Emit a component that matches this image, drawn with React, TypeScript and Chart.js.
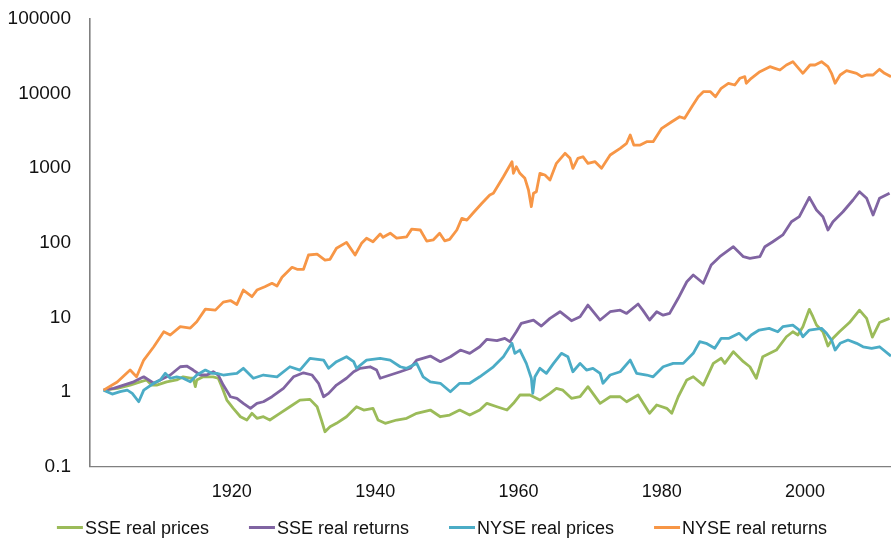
import React, { useEffect, useRef } from 'react';
import { Chart, registerables } from 'chart.js';

Chart.register(...registerables);

const FONT = "'Liberation Sans', Arial, sans-serif";

// X-axis tick labels and Y-axis tick labels
const xTickYears = [1920, 1940, 1960, 1980, 2000];
const yTickValues = [0.1, 1, 10, 100, 1000, 10000, 100000];
const yTickLabels = ['0.1', '1', '10', '100', '1000', '10000', '100000'];

const seriesLabels = ['SSE real prices', 'SSE real returns', 'NYSE real prices', 'NYSE real returns'];
const seriesColors = ['#9BBB59', '#8064A2', '#4BACC6', '#F79646'];

// SSE real prices (green)
const ssePricesYears = [
  1902.1, 1904.0, 1905.8, 1907.2, 1908.1, 1908.8, 1909.5, 1910.9, 1912.3, 1913.2,
  1914.2, 1914.6, 1914.9, 1915.1, 1916.0, 1917.4, 1918.1, 1918.6, 1919.3, 1920.2,
  1921.2, 1922.1, 1922.8, 1923.5, 1924.4, 1925.3, 1926.7, 1928.1, 1929.5, 1930.9,
  1931.9, 1932.5, 1933.0, 1933.7, 1934.6, 1936.0, 1937.4, 1938.4, 1939.7, 1940.4,
  1941.4, 1943.0, 1944.4, 1945.8, 1947.7, 1949.1, 1950.4, 1951.8, 1953.2, 1954.6,
  1955.6, 1957.0, 1958.4, 1959.3, 1960.2, 1961.6, 1963.0, 1964.4, 1965.3, 1966.2,
  1967.4, 1968.6, 1969.7, 1971.4, 1972.8, 1974.2, 1975.1, 1976.7, 1978.3, 1979.3,
  1980.7, 1981.4, 1982.3, 1983.5, 1984.4, 1985.8, 1987.2, 1988.3, 1988.8, 1990.0,
  1991.4, 1992.3, 1993.2, 1994.1, 1996.0, 1997.4, 1998.3, 1999.0, 1999.7, 2000.6,
  2001.1, 2001.6, 2002.5, 2003.2, 2003.9, 2004.8, 2006.2, 2007.6, 2008.6, 2009.4,
  2010.4, 2011.8,
];
const ssePricesValues = [
  1.06, 1.12, 1.24, 1.37, 1.45, 1.24, 1.24, 1.37, 1.45, 1.60,
  1.53, 1.54, 1.18, 1.45, 1.60, 1.60, 1.53, 1.18, 0.781, 0.605,
  0.467, 0.422, 0.519, 0.445, 0.467, 0.422, 0.519, 0.635, 0.781, 0.798,
  0.635, 0.422, 0.294, 0.343, 0.381, 0.467, 0.635, 0.574, 0.605, 0.422,
  0.381, 0.422, 0.445, 0.519, 0.574, 0.467, 0.492, 0.574, 0.492, 0.574,
  0.706, 0.635, 0.574, 0.706, 0.912, 0.912, 0.781, 0.96, 1.12, 1.06,
  0.824, 0.865, 1.18, 0.706, 0.865, 0.865, 0.741, 0.912, 0.519, 0.670,
  0.605, 0.519, 0.865, 1.45, 1.60, 1.24, 2.42, 2.83, 2.42, 3.47,
  2.55, 2.18, 1.53, 2.97, 3.65, 5.50, 6.42, 5.80, 7.50, 12.8,
  10.2, 7.89, 6.42, 4.13, 5.24, 6.42, 8.53, 12.5, 9.70, 5.45,
  8.53, 9.70,
];

// SSE real returns (purple)
const sseReturnsYears = [
  1902.1, 1903.5, 1904.9, 1906.3, 1907.7, 1908.4, 1909.1, 1910.0, 1911.4, 1912.8,
  1913.7, 1914.6, 1915.6, 1916.5, 1917.4, 1918.1, 1918.8, 1919.8, 1920.7, 1921.6,
  1922.6, 1923.5, 1924.4, 1925.6, 1927.2, 1928.6, 1930.0, 1931.2, 1932.1, 1932.8,
  1933.5, 1934.6, 1936.0, 1937.0, 1937.9, 1939.3, 1940.2, 1940.7, 1942.1, 1943.5,
  1944.9, 1945.8, 1947.7, 1949.1, 1950.5, 1951.9, 1953.2, 1954.6, 1955.6, 1957.0,
  1958.1, 1958.8, 1959.7, 1960.4, 1962.1, 1963.2, 1964.4, 1965.8, 1967.4, 1968.6,
  1969.7, 1971.4, 1972.8, 1974.2, 1975.1, 1976.7, 1977.4, 1978.3, 1979.3, 1980.2,
  1981.1, 1982.3, 1983.5, 1984.4, 1985.8, 1986.9, 1988.1, 1990.0, 1991.4, 1992.3,
  1993.7, 1994.4, 1995.5, 1996.9, 1998.1, 1999.2, 2000.6, 2001.6, 2002.5, 2003.2,
  2003.9, 2005.3, 2006.7, 2007.6, 2008.6, 2009.5, 2010.4, 2011.8,
];
const sseReturnsValues = [
  1.06, 1.12, 1.24, 1.37, 1.60, 1.45, 1.31, 1.45, 1.69, 2.18,
  2.23, 1.97, 1.69, 1.69, 1.87, 1.69, 1.24, 0.865, 0.824, 0.706,
  0.605, 0.706, 0.741, 0.865, 1.12, 1.60, 1.81, 1.69, 1.31, 0.865,
  0.96, 1.24, 1.53, 1.87, 2.08, 2.18, 1.97, 1.53, 1.69, 1.87,
  2.08, 2.68, 3.03, 2.55, 2.97, 3.65, 3.30, 4.04, 5.08, 4.87,
  5.24, 4.72, 6.42, 8.32, 9.21, 7.65, 9.70, 11.9, 9.02, 10.2,
  14.6, 9.21, 11.9, 12.5, 11.3, 15.1, 12.3, 9.21, 11.9, 10.7,
  11.3, 18.0, 30.0, 36.9, 28.6, 50.2, 64.9, 88.3, 64.9, 61.8,
  64.9, 88.3, 103, 127, 191, 223, 405, 274, 223, 148,
  191, 260, 373, 482, 393, 235, 393, 459,
];

// NYSE real prices (blue)
const nysePricesYears = [
  1902.1, 1903.3, 1904.4, 1905.4, 1906.1, 1907.0, 1907.7, 1909.1, 1910.0, 1910.7,
  1911.4, 1912.3, 1913.2, 1914.2, 1915.1, 1916.3, 1917.2, 1917.9, 1918.8, 1919.8,
  1920.7, 1921.6, 1923.0, 1924.4, 1926.3, 1928.1, 1929.5, 1930.9, 1932.8, 1933.5,
  1934.6, 1936.0, 1937.0, 1937.4, 1938.8, 1940.7, 1942.1, 1943.5, 1944.4, 1945.8,
  1946.7, 1947.7, 1949.1, 1950.5, 1951.8, 1953.2, 1954.6, 1956.5, 1957.9, 1959.1,
  1959.5, 1960.2, 1961.1, 1961.8, 1962.0, 1962.3, 1963.0, 1963.9, 1964.9, 1966.0,
  1966.9, 1967.6, 1968.6, 1969.5, 1970.4, 1971.4, 1971.8, 1972.8, 1974.2, 1975.6,
  1976.5, 1977.9, 1978.8, 1980.2, 1981.6, 1983.0, 1984.4, 1985.3, 1986.2, 1987.4,
  1988.3, 1989.4, 1990.8, 1991.8, 1992.5, 1993.6, 1995.0, 1996.2, 1996.9, 1998.3,
  1999.2, 1999.7, 2000.6, 2002.3, 2003.0, 2003.7, 2004.2, 2004.9, 2006.0, 2007.2,
  2008.1, 2009.3, 2010.4, 2012.0,
];
const nysePricesValues = [
  1.06, 0.94, 1.01, 1.06, 0.96, 0.741, 1.06, 1.31, 1.45, 1.78,
  1.53, 1.60, 1.53, 1.37, 1.69, 1.97, 1.78, 1.78, 1.69, 1.74,
  1.78, 2.08, 1.53, 1.69, 1.60, 2.18, 1.97, 2.83, 2.68, 2.08,
  2.55, 2.97, 2.55, 2.08, 2.68, 2.83, 2.68, 2.18, 2.08, 2.42,
  1.60, 1.37, 1.31, 1.01, 1.31, 1.31, 1.60, 2.18, 2.97, 4.49,
  3.30, 3.65, 2.42, 1.53, 0.96, 1.60, 2.08, 1.78, 2.42, 3.30,
  2.97, 1.87, 2.42, 1.97, 2.08, 1.78, 1.31, 1.69, 1.87, 2.68,
  1.78, 1.69, 1.60, 2.18, 2.42, 2.42, 3.30, 4.72, 4.49, 3.85,
  5.24, 5.24, 6.11, 4.97, 5.80, 6.77, 7.13, 6.42, 7.50, 7.89,
  6.77, 5.50, 6.77, 7.13, 6.11, 4.97, 3.65, 4.49, 4.97, 4.49,
  4.04, 3.85, 4.04, 3.03,
];

// NYSE real returns (orange)
const nyseReturnsYears = [
  1902.1, 1904.0, 1905.8, 1906.7, 1907.7, 1909.1, 1910.5, 1911.4, 1912.8, 1914.2,
  1915.1, 1916.3, 1917.7, 1918.8, 1919.8, 1920.7, 1921.6, 1922.8, 1923.5, 1924.6,
  1925.6, 1926.3, 1927.0, 1928.4, 1929.1, 1930.0, 1930.7, 1931.9, 1933.0, 1933.7,
  1934.6, 1936.0, 1937.2, 1938.1, 1938.8, 1939.7, 1940.7, 1941.1, 1942.1, 1943.0,
  1944.4, 1945.1, 1946.3, 1947.2, 1948.1, 1949.0, 1949.7, 1950.4, 1951.4, 1952.1,
  1952.8, 1953.7, 1954.9, 1956.0, 1956.5, 1957.9, 1959.1, 1959.3, 1959.7, 1960.2,
  1960.9, 1961.4, 1961.8, 1962.1, 1962.5, 1963.0, 1963.7, 1964.4, 1965.3, 1966.5,
  1967.2, 1967.6, 1968.3, 1969.0, 1969.7, 1970.7, 1971.6, 1972.8, 1974.2, 1975.1,
  1975.6, 1976.1, 1977.0, 1977.9, 1978.8, 1980.0, 1981.4, 1982.5, 1983.2, 1984.2,
  1985.1, 1985.8, 1986.8, 1987.5, 1988.3, 1989.3, 1990.2, 1990.9, 1991.6, 1991.8,
  1992.5, 1993.7, 1995.1, 1995.8, 1996.5, 1997.4, 1998.3, 1999.7, 2000.7, 2001.4,
  2002.3, 2003.2, 2003.7, 2004.2, 2004.9, 2005.8, 2007.2, 2007.9, 2008.6, 2009.5,
  2010.4, 2011.1, 2012.0,
];
const nyseReturnsValues = [
  1.06, 1.36, 1.97, 1.60, 2.68, 4.04, 6.42, 5.80, 7.50, 7.20,
  8.74, 12.9, 12.5, 16.0, 16.8, 14.9, 23.2, 18.9, 23.2, 25.7,
  28.6, 26.3, 34.4, 46.8, 44.0, 44.0, 68.4, 70.5, 58.6, 59.9,
  84.1, 101, 68.4, 98.1, 115, 103, 131, 118, 134, 115,
  120, 152, 148, 105, 109, 134, 106, 111, 148, 212,
  201, 252, 337, 435, 459, 765, 1216, 850, 1042, 850,
  728, 508, 304, 459, 482, 850, 806, 692, 1157, 1574,
  1348, 991, 1348, 1418, 1157, 1216, 991, 1493, 1836, 2143,
  2768, 2033, 2033, 2253, 2253, 3404, 4172, 4866, 4634, 6627,
  9024, 10520, 10520, 9024, 11690, 13640, 12950, 15920, 16720, 13640,
  15920, 19500, 22770, 21660, 20560, 23990, 26550, 18570, 23990, 23990,
  26550, 22770, 18570, 13640, 17620, 20130, 18570, 16720, 17620, 17620,
  21000, 18570, 16720,
];

const seriesYears = [ssePricesYears, sseReturnsYears, nysePricesYears, nyseReturnsYears];
const seriesValues = [ssePricesValues, sseReturnsValues, nysePricesValues, nyseReturnsValues];
const drawOrder = [4, 3, 2, 1];

const bottomLegend = {
  id: 'bottomLegend',
  afterDraw(chart: any) {
    const ctx = chart.ctx as CanvasRenderingContext2D;
    ctx.save();
    ctx.font = `18px ${FONT}`;
    const lineW = 26;
    const textGap = 2;
    const itemGap = 40;
    const items = chart.data.datasets.map((ds: any) => ({
      label: ds.label as string,
      color: ds.borderColor as string,
      w: ctx.measureText(ds.label).width,
    }));
    const total =
      items.reduce((s: number, it: any) => s + lineW + textGap + it.w, 0) + itemGap * (items.length - 1);
    let x = 442 - total / 2;
    const y = 528;
    for (const it of items) {
      ctx.strokeStyle = it.color;
      ctx.lineWidth = 3;
      ctx.beginPath();
      ctx.moveTo(x, y - 0.5);
      ctx.lineTo(x + lineW, y - 0.5);
      ctx.stroke();
      ctx.fillStyle = '#111';
      ctx.textBaseline = 'middle';
      ctx.textAlign = 'left';
      ctx.fillText(it.label, x + lineW + textGap, y + 1.5);
      x += lineW + textGap + it.w + itemGap;
    }
    ctx.restore();
  },
};

export default function App() {
  const ref = useRef<HTMLCanvasElement | null>(null);

  useEffect(() => {
    document.body.style.margin = '0';
    const canvas = ref.current;
    if (!canvas) return;
    const datasets = seriesLabels.map((label, i) => ({
      label,
      data: seriesYears[i].map((yr, j) => ({ x: yr, y: seriesValues[i][j] })),
      borderColor: seriesColors[i],
      backgroundColor: seriesColors[i],
      borderWidth: 2.8,
      pointRadius: 0,
      tension: 0,
      borderJoinStyle: 'round' as const,
      order: drawOrder[i],
      fill: false,
    }));

    const chart = new Chart(canvas, {
      type: 'line',
      data: { datasets },
      plugins: [bottomLegend],
      options: {
        animation: false,
        responsive: false,
        maintainAspectRatio: false,
        layout: { padding: { top: 18.7, left: 0, right: 0, bottom: 0 } },
        plugins: {
          legend: { display: false },
          tooltip: { enabled: false },
        },
        scales: {
          x: {
            type: 'linear',
            min: 1900.2,
            max: 2012,
            afterBuildTicks: (s: any) => {
              s.ticks = xTickYears.map((v) => ({ value: v }));
            },
            afterFit: (s: any) => {
              s.height = 73.3;
              s.paddingLeft = 0;
              s.paddingRight = 0;
            },
            ticks: {
              autoSkip: false,
              maxRotation: 0,
              padding: 15,
              color: '#111',
              font: { family: FONT, size: 18 },
              callback: (v: any) => String(v),
            },
            grid: { display: false, drawTicks: false },
            border: { display: true, color: '#808080', width: 1.2 },
          },
          y: {
            type: 'logarithmic',
            min: 0.1,
            max: 100000,
            afterBuildTicks: (s: any) => {
              s.ticks = yTickValues.map((v) => ({ value: v }));
            },
            afterFit: (s: any) => {
              s.width = 90;
              s.paddingTop = 0;
              s.paddingBottom = 0;
            },
            ticks: {
              autoSkip: false,
              padding: 19,
              color: '#111',
              font: { family: FONT, size: 19 },
              callback: (_v: any, i: number) => yTickLabels[i],
            },
            grid: { display: false, drawTicks: false },
            border: { display: true, color: '#808080', width: 1.6 },
          },
        },
      },
    });
    return () => chart.destroy();
  }, []);

  return (
    <div style={{ width: 891, height: 540 }}>
      <canvas ref={ref} width={891} height={540} style={{ display: 'block' }} />
    </div>
  );
}
